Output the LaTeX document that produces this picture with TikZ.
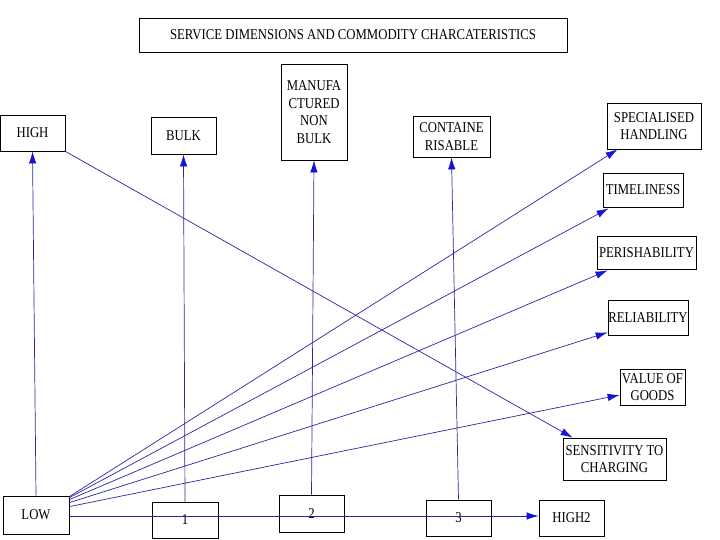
\documentclass[tikz,border=0pt]{standalone}
\usepackage{fontspec}
\setmainfont[FakeStretch=0.85]{Liberation Serif}
\usetikzlibrary{arrows.meta}
\definecolor{linec}{RGB}{40,40,160}
\definecolor{tipc}{RGB}{20,20,215}
\begin{document}
\begin{tikzpicture}[x=1pt,y=-1pt,
  box/.style={draw=black, line width=0.8pt, rectangle, inner sep=0pt, align=center,
              font=\fontsize{15}{17.5}\selectfont},
  arr/.style={draw=linec, line width=0.7pt, -{Latex[length=12pt,width=7.5pt,color=tipc]}}]
\useasboundingbox (0,0) rectangle (720,540);
\fill[white] (0,0) rectangle (720,540);
% nodes
\node[box, minimum width=428pt, minimum height=34pt] (title) at (353,35) {SERVICE DIMENSIONS AND COMMODITY CHARCATERISTICS};
\node[box, minimum width=65pt, minimum height=36pt] (high) at (32.5,133) {HIGH};
\node[box, minimum width=65pt, minimum height=37pt] (bulk) at (183.5,135.5) {BULK};
\node[box, minimum width=66pt, minimum height=96pt] (manu) at (314,112) {MANUFA\\CTURED\\NON\\BULK};
\node[box, minimum width=77pt, minimum height=41pt] (cont) at (451.5,136.5) {CONTAINE\\RISABLE};
\node[box, minimum width=94pt, minimum height=46pt] (spec) at (654,126) {SPECIALISED\\HANDLING};
\node[box, minimum width=80pt, minimum height=34pt] (time) at (643,190) {TIMELINESS};
\node[box, minimum width=99pt, minimum height=33pt] (per) at (646.5,252.5) {PERISHABILITY};
\node[box, minimum width=80pt, minimum height=35pt] (rel) at (648,317.5) {RELIABILITY};
\node[box, minimum width=65pt, minimum height=36pt] (val) at (652.5,387) {VALUE OF\\GOODS};
\node[box, minimum width=103pt, minimum height=42pt] (sens) at (614.5,459) {SENSITIVITY TO\\CHARGING};
\node[box, minimum width=66pt, minimum height=38pt] (low) at (36,515) {LOW};
\node[box, minimum width=66pt, minimum height=36pt] (one) at (185,520) {1};
\node[box, minimum width=65pt, minimum height=37pt] (two) at (311.5,513.5) {2};
\node[box, minimum width=65pt, minimum height=36pt] (three) at (458.5,518) {3};
\node[box, minimum width=65pt, minimum height=36pt] (high2) at (571.5,518) {HIGH2};
% vertical arrows
\draw[arr] (low.north) -- (high.south);
\draw[arr] (one.north) -- (bulk.south);
\draw[arr] (two.north) -- (manu.south);
\draw[arr] (three.north) -- (cont.south);
% diagonal from HIGH
\draw[arr] (high.south east) -- ([xshift=10pt]sens.north west);
% fan from LOW
\draw[arr] ([yshift=-1pt]low.north east) -- ([xshift=11pt]spec.south west);
\draw[arr] ([yshift=-2pt]low.north east) -- ([xshift=6pt,yshift=-1pt]time.south west);
\draw[arr] ([yshift=-4pt]low.north east) -- ([xshift=11pt,yshift=-1pt]per.south west);
\draw[arr] ([yshift=-7pt]low.north east) -- ([yshift=3pt]rel.south west);
\draw[arr] ([yshift=-11pt]low.north east) -- ([yshift=-8pt]val.west);
% horizontal
\draw[arr] ([yshift=-1pt]low.east) -- ([yshift=-1pt]low.east -| high2.west);
\end{tikzpicture}
\end{document}
